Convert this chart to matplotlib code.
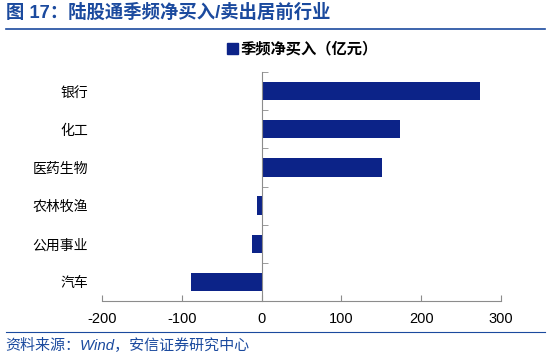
import numpy as np
import matplotlib
matplotlib.use("Agg")
import matplotlib.pyplot as plt
from matplotlib.lines import Line2D
from matplotlib.patches import Patch

plt.rcParams['font.family'] = ['Liberation Sans', 'Noto Sans CJK SC', 'DejaVu Sans']

TITLE = "图 17：陆股通季频净买入/卖出居前行业"
SOURCE = "资料来源：Wind，安信证券研究中心"
LEGEND = "季频净买入（亿元）"

industries = ["银行", "化工", "医药生物", "农林牧渔", "公用事业", "汽车"]
net_buy = [274, 174, 151, -6, -12, -89]
x_ticks = [-200, -100, 0, 100, 200, 300]

BAR = '#0C2388'
BLUE = '#1B4A9E'
GREY = '#8C8C8C'

fig = plt.figure(figsize=(5.5, 3.58), dpi=100)
ax = fig.add_axes([0.1855, 0.159, 0.7255, 0.640])

y = np.arange(len(industries))
ax.barh(y, net_buy, height=0.48, color=BAR, zorder=3)

ax.set_xlim(x_ticks[0], x_ticks[-1])
ax.set_ylim(len(industries) - 0.5, -0.5)
ax.set_xticks(x_ticks)
ax.set_xticklabels([str(t) for t in x_ticks], fontsize=10.5)

ax.set_yticks(y)
ax.set_yticklabels(industries, fontsize=10.5)
ax.set_yticks(np.arange(len(industries) + 1) - 0.5, minor=True)

# category axis drawn at zero, labels kept at the left edge
for s in ('top', 'left'):
    ax.spines[s].set_visible(False)
ax.spines['right'].set_position(('data', 0))
ax.spines['right'].set_color(GREY)
ax.spines['right'].set_zorder(4)
ax.spines['bottom'].set_color(GREY)

ax.tick_params(axis='y', which='major', left=True, right=False, length=0, pad=10)
ax.tick_params(axis='y', which='minor', left=False, right=True, length=4,
               direction='out', color=GREY)
ax.tick_params(axis='x', direction='in', length=4, color=GREY, pad=8)

fig.legend(handles=[Patch(color=BAR)], labels=[LEGEND], loc='center',
           bbox_to_anchor=(0.55, 0.862), frameon=False, handlelength=0.75,
           handleheight=0.75, handletextpad=0.15,
           prop={'size': 11, 'weight': 'bold'})

fig.text(0.01, 0.965, TITLE, color=BLUE, fontsize=13.2, fontweight='bold',
         va='center', ha='left')
fig.add_artist(Line2D([0.01, 0.99], [0.918, 0.918], color=BLUE, lw=1.2,
                      transform=fig.transFigure))
fig.add_artist(Line2D([0.01, 0.99], [0.073, 0.073], color=BLUE, lw=0.8,
                      transform=fig.transFigure))
fig.text(0.01, 0.035, SOURCE, color=BLUE, fontsize=10.8, style='italic',
         va='center', ha='left')

fig.savefig("out.png", dpi=100)
